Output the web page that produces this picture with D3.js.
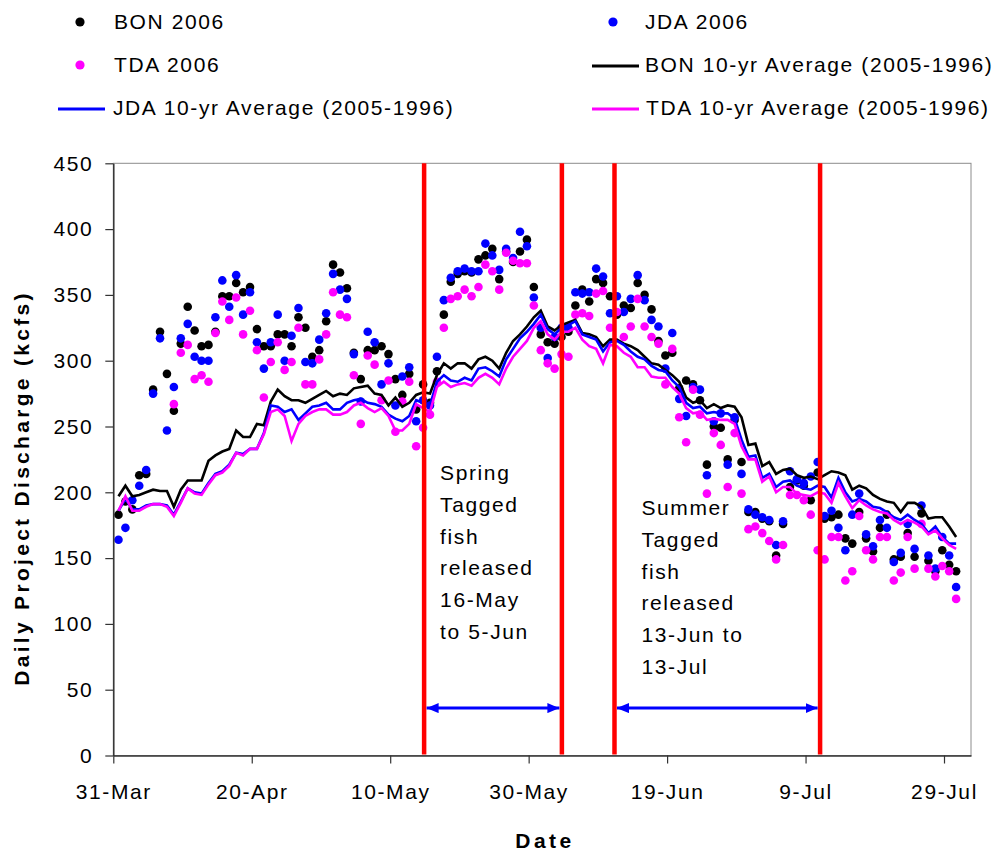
<!DOCTYPE html>
<html>
<head>
<meta charset="utf-8">
<script src="https://cdn.jsdelivr.net/npm/d3@7"></script>
<style>
  body { margin: 0; background: #fff; }
  svg text { font-family: "Liberation Sans", Arial, sans-serif; }
</style>
</head>
<body>
<svg id="chart" width="996" height="852"></svg>
<script>
// Daily project discharge (kcfs), one value per day starting 31-Mar-2006
const startDate = new Date(2006, 2, 31);

const bon2006 = [183,193,187,213,214,278,322,290,262,313,
  341,323,311,312,322,349,349,359,352,356,
  324,311,311,320,320,311,333,325,303,308,
  330,373,367,355,306,286,308,308,311,305,
  286,274,290,263,282,268,292,335,360,366,
  368,367,377,380,385,362,383,375,383,392,
  356,320,314,313,318,322,342,354,345,362,
  359,349,335,342,340,359,350,339,315,304,
  306,279,285,282,270,221,250,249,225,255,
  223,185,185,180,178,152,176,204,209,205,
  194,215,180,181,183,165,161,185,165,155,
  173,183,149,151,169,151,184,148,140,156,
  145,140];

const jda2006 = [164,173,194,205,217,275,317,247,280,317,
  328,303,300,300,333,361,341,365,335,352,
  314,294,314,335,300,319,340,299,298,316,
  336,366,354,347,305,269,322,314,282,298,
  266,288,295,254,270,266,303,346,363,368,
  370,368,368,389,380,369,385,378,398,387,
  348,325,302,318,325,325,352,351,352,370,
  364,336,349,337,347,365,346,331,326,294,
  321,271,258,280,278,213,254,260,221,257,
  214,187,183,181,179,160,178,216,210,207,
  212,223,182,186,173,156,183,199,168,159,
  179,173,147,154,176,157,190,152,142,166,
  152,128];

const tda2006 = [null,null,null,null,null,null,null,null,267,306,
  312,286,289,284,321,345,331,348,320,338,
  308,272,299,314,293,299,325,282,282,301,
  320,352,335,333,289,252,304,297,270,285,
  246,269,284,235,249,259,284,325,347,349,
  354,349,356,373,368,354,382,376,374,374,
  342,308,298,294,305,303,335,336,334,351,
  353,325,337,318,326,347,326,318,313,282,
  309,257,238,278,259,199,245,236,204,245,
  199,172,174,169,163,149,160,198,198,194,
  183,156,149,166,166,133,140,182,156,149,
  166,166,133,139,166,142,176,142,136,144,
  140,119];

const bonAvg = [197,205,197,198,200,202,201,201,189,202,
  209,209,209,224,228,231,233,247,242,242,
  252,251,269,278,273,270,270,268,271,274,
  277,273,275,274,279,280,281,275,274,266,
  272,265,268,274,276,275,289,298,294,298,
  298,294,301,303,300,294,306,315,320,326,
  333,338,326,323,327,329,331,321,320,318,
  311,316,316,313,311,308,303,298,297,293,
  289,284,272,268,270,264,267,264,266,265,
  257,236,237,220,223,214,217,218,213,211,
  212,210,213,216,215,213,202,205,203,198,
  195,193,192,185,192,192,189,180,181,181,
  174,166];

const jdaAvg = [186,195,187,187,190,191,191,190,183,193,
  203,200,199,207,214,216,221,230,229,233,
  233,245,266,265,261,263,255,260,265,266,
  268,263,263,268,270,271,268,267,265,259,
  256,254,258,270,268,266,284,289,285,284,
  287,285,294,295,292,288,301,309,317,322,
  328,335,324,320,325,327,330,320,318,316,
  307,314,315,312,307,303,301,296,293,292,
  285,280,268,264,265,260,261,260,260,256,
  240,227,228,211,214,204,208,209,205,203,
  202,205,204,196,211,200,193,195,193,189,
  188,185,181,179,183,179,176,169,174,166,
  161,161];

const tdaAvg = [186,197,186,186,189,191,191,189,182,192,
  203,199,198,206,213,215,220,230,228,233,
  233,244,261,263,258,239,252,258,261,263,
  263,259,259,261,266,268,264,261,264,258,
  247,247,252,267,264,261,280,284,280,282,
  283,281,287,290,287,282,294,303,309,315,
  325,330,320,316,322,322,325,316,311,309,
  298,312,311,306,303,295,295,288,287,287,
  280,275,264,260,261,255,256,255,255,252,
  235,225,225,208,212,200,204,204,199,198,
  197,200,199,192,207,197,188,194,190,187,
  185,184,179,176,179,177,174,168,171,165,
  160,157];

// Axis ticks: days after 31-Mar and their labels
const xTickDays = [0, 20, 40, 60, 80, 100, 120];
const xTickLabels = ["31-Mar", "20-Apr", "10-May", "30-May", "19-Jun", "9-Jul", "29-Jul"];
const yTicks = [0, 50, 100, 150, 200, 250, 300, 350, 400, 450];

// Release windows of tagged fish (axis day units) and their notes
const releaseWindows = [
  { from: 44.9, to: 64.8, note: ["Spring", "Tagged", "fish", "released", "16-May", "to 5-Jun"] },
  { from: 72.4, to: 102.1, note: ["Summer", "Tagged", "fish", "released", "13-Jun to", "13-Jul"] }
];
const arrowLevel = 36; // kcfs

const dotSeries = [
  { name: "BON 2006", values: bon2006, color: "#000000" },
  { name: "JDA 2006", values: jda2006, color: "#0000ff" },
  { name: "TDA 2006", values: tda2006, color: "#ff00ff" }
];
const lineSeries = [
  { name: "BON 10-yr Average (2005-1996)", values: bonAvg, color: "#000000" },
  { name: "JDA 10-yr Average (2005-1996)", values: jdaAvg, color: "#0000ff" },
  { name: "TDA 10-yr Average (2005-1996)", values: tdaAvg, color: "#ff00ff" }
];

const svg = d3.select("#chart");
svg.append("rect").attr("width", 996).attr("height", 852).attr("fill", "#fff");

const plot = { left: 113.3, right: 971, top: 163.3, bottom: 755.5 };
const x = d3.scaleLinear().domain([0, 123.9]).range([plot.left, plot.right]);
const y = d3.scaleLinear().domain([0, 450]).range([plot.bottom, plot.top]);
const dayPos = i => x(i + 0.75);

const LS = "1.6px";

// plot frame
svg.append("rect")
  .attr("x", plot.left).attr("y", plot.top)
  .attr("width", plot.right - plot.left).attr("height", plot.bottom - plot.top)
  .attr("fill", "none").attr("stroke", "#8c8c8c").attr("stroke-width", 1);

// dots
dotSeries.forEach(s => {
  svg.append("g").selectAll("circle")
    .data(s.values.map((v, i) => ({ v, i })).filter(d => d.v != null))
    .join("circle")
    .attr("cx", d => dayPos(d.i))
    .attr("cy", d => y(d.v))
    .attr("r", 4.3)
    .attr("fill", s.color);
});

// 10-year average lines
const line = d3.line().x((d, i) => dayPos(i)).y(d => y(d));
lineSeries.forEach(s => {
  svg.append("path")
    .attr("d", line(s.values))
    .attr("fill", "none")
    .attr("stroke", s.color)
    .attr("stroke-width", 2.6)
    .attr("stroke-linejoin", "miter");
});

// axes
const yAxis = svg.append("g")
  .attr("transform", `translate(${plot.left},0)`)
  .call(d3.axisLeft(y).tickValues(yTicks).tickSize(8).tickSizeOuter(0).tickPadding(12));
const xAxis = svg.append("g")
  .attr("transform", `translate(0,${plot.bottom})`)
  .call(d3.axisBottom(x).tickValues(xTickDays)
    .tickFormat((d, i) => xTickLabels[i]).tickSize(8).tickSizeOuter(0).tickPadding(21));
[yAxis, xAxis].forEach(g => {
  g.select(".domain").attr("stroke", "#333").attr("stroke-width", 1.5);
  g.selectAll(".tick line").attr("stroke", "#333").attr("stroke-width", 1.2);
  g.selectAll(".tick text")
    .attr("fill", "#000")
    .style("font-size", "21px")
    .style("letter-spacing", LS)
    .style("font-family", '"Liberation Sans", Arial, sans-serif');
});

// release markers, arrows and notes
const defs = svg.append("defs");
["start", "end"].forEach(k => {
  defs.append("marker")
    .attr("id", "arrow-" + k)
    .attr("markerUnits", "userSpaceOnUse")
    .attr("viewBox", "0 0 12 10")
    .attr("refX", k === "end" ? 12 : 0).attr("refY", 5)
    .attr("markerWidth", 12).attr("markerHeight", 10)
    .attr("orient", "auto")
    .append("path")
    .attr("d", k === "end" ? "M0,0 L12,5 L0,10 Z" : "M12,0 L0,5 L12,10 Z")
    .attr("fill", "#0000ff");
});

releaseWindows.forEach((w, wi) => {
  [w.from, w.to].forEach(d => {
    svg.append("line")
      .attr("x1", x(d)).attr("x2", x(d))
      .attr("y1", plot.top).attr("y2", plot.bottom - 1)
      .attr("stroke", "#ff0000").attr("stroke-width", 4.5);
  });
  svg.append("line")
    .attr("x1", x(w.from) + 2.5).attr("x2", x(w.to) - 2.5)
    .attr("y1", y(arrowLevel)).attr("y2", y(arrowLevel))
    .attr("stroke", "#0000ff").attr("stroke-width", 3)
    .attr("marker-start", "url(#arrow-start)")
    .attr("marker-end", "url(#arrow-end)");
  const noteX = x(w.from) + (wi === 0 ? 16 : 27);
  const noteY0 = wi === 0 ? 480 : 515;
  const t = svg.append("text")
    .attr("x", noteX).attr("y", noteY0)
    .style("font-size", "21px").style("letter-spacing", LS);
  w.note.forEach((s, k) => {
    t.append("tspan").attr("x", noteX).attr("y", noteY0 + k * 31.8).text(s);
  });
});

// axis titles
svg.append("text")
  .attr("transform", "translate(29,488) rotate(-90)")
  .attr("text-anchor", "middle")
  .style("font-size", "21px").style("font-weight", "bold").style("letter-spacing", "3.3px")
  .text("Daily Project Discharge (kcfs)");
svg.append("text")
  .attr("x", 545).attr("y", 848)
  .attr("text-anchor", "middle")
  .style("font-size", "21px").style("font-weight", "bold").style("letter-spacing", "3.5px")
  .text("Date");

// legend
const legendItems = [
  { s: dotSeries[0], type: "dot", mx: 80, tx: 114, base: 29 },
  { s: dotSeries[1], type: "dot", mx: 613, tx: 645, base: 29 },
  { s: dotSeries[2], type: "dot", mx: 80, tx: 114, base: 72 },
  { s: lineSeries[0], type: "line", mx: 592, tx: 645, base: 72 },
  { s: lineSeries[1], type: "line", mx: 58, tx: 113, base: 115 },
  { s: lineSeries[2], type: "line", mx: 592, tx: 646, base: 115 }
];
const legend = svg.append("g");
legendItems.forEach(it => {
  if (it.type === "dot") {
    legend.append("circle").attr("cx", it.mx).attr("cy", it.base - 7).attr("r", 4.6).attr("fill", it.s.color);
  } else {
    legend.append("line")
      .attr("x1", it.mx).attr("x2", it.mx + 47)
      .attr("y1", it.base - 6).attr("y2", it.base - 6)
      .attr("stroke", it.s.color).attr("stroke-width", 3);
  }
  legend.append("text")
    .attr("x", it.tx).attr("y", it.base)
    .style("font-size", "21px").style("letter-spacing", LS)
    .text(it.s.name);
});
</script>
</body>
</html>
